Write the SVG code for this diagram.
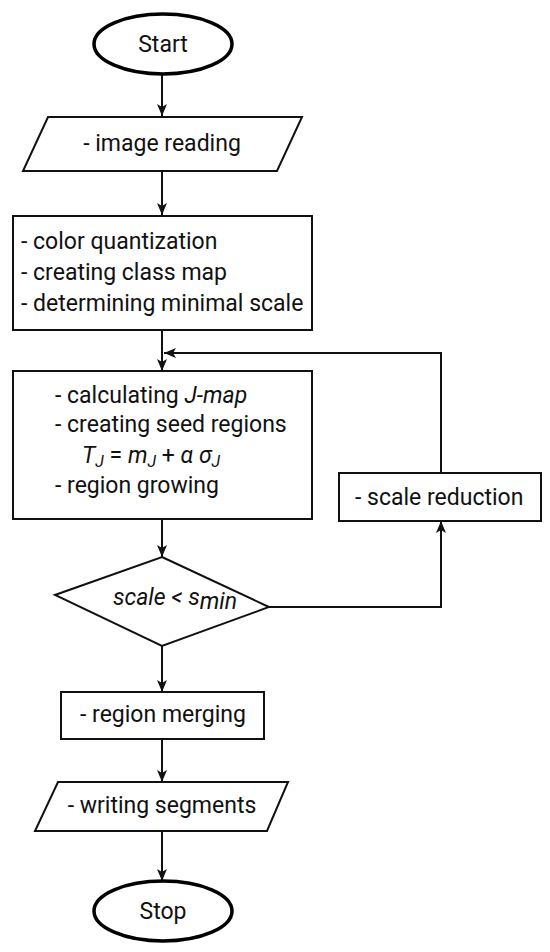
<svg xmlns="http://www.w3.org/2000/svg" width="550" height="952" viewBox="0 0 550 952">
<defs>
<marker id="arr" viewBox="0 0 12 10" refX="12" refY="5" markerWidth="12" markerHeight="10" markerUnits="userSpaceOnUse" orient="auto">
<path d="M0,0 L12,5 L0,10 L3,5 z" fill="#111"/>
</marker>
<style>
.sh{fill:#fff;stroke:#111;stroke-width:2}
.term{fill:#fff;stroke:#000;stroke-width:3.5}
.t{font-family:Roboto,"Liberation Sans",sans-serif;font-size:23px;fill:#111}
.c{text-anchor:middle}
.i{font-style:italic}
.ln{fill:none;stroke:#111;stroke-width:2}
</style>
</defs>
<rect width="550" height="952" fill="#fff"/>
<g id="connectors">
<path class="ln" d="M162,75 V116" marker-end="url(#arr)"/>
<path class="ln" d="M162,171 V215" marker-end="url(#arr)"/>
<path class="ln" d="M162,330 V371" marker-end="url(#arr)"/>
<path class="ln" d="M441,473 V353 H164" marker-end="url(#arr)"/>
<path class="ln" d="M162,519 V557" marker-end="url(#arr)"/>
<path class="ln" d="M269,607 H441 V521" marker-end="url(#arr)"/>
<path class="ln" d="M162,646 V692" marker-end="url(#arr)"/>
<path class="ln" d="M162,739 V782" marker-end="url(#arr)"/>
<path class="ln" d="M162,831 V881" marker-end="url(#arr)"/>
</g>
<g id="start">
<ellipse class="term" cx="163" cy="44" rx="69" ry="30"/>
<text class="t c" x="163" y="52">Start</text>
</g>
<g id="image-reading">
<polygon class="sh" points="48,117 302,117 277,171 23,171"/>
<text class="t c" x="162" y="151">- image reading</text>
</g>
<g id="preprocess">
<rect class="sh" x="13" y="216" width="299" height="114"/>
<text class="t" x="21" y="249">- color quantization</text>
<text class="t" x="21" y="280">- creating class map</text>
<text class="t" x="21" y="311">- determining minimal scale</text>
</g>
<g id="segmentation">
<rect class="sh" x="13" y="371" width="299" height="148"/>
<text class="t" x="55" y="403">- calculating <tspan class="i">J-map</tspan></text>
<text class="t" x="55" y="432">- creating seed regions</text>
<text class="t" x="82" y="463"><tspan class="i">T</tspan><tspan class="i" font-size="16" dy="4">J</tspan><tspan dy="-4"> = </tspan><tspan class="i">m</tspan><tspan class="i" font-size="16" dy="4">J</tspan><tspan dy="-4"> + </tspan><tspan class="i">α</tspan><tspan> </tspan><tspan class="i">σ</tspan><tspan class="i" font-size="16" dy="4">J</tspan></text>
<text class="t" x="55" y="493">- region growing</text>
</g>
<g id="scale-reduction">
<rect class="sh" x="339" y="473" width="202" height="48"/>
<text class="t" x="355" y="505">- scale reduction</text>
</g>
<g id="decision">
<polygon class="sh" points="162,557 269,607 162,646 55,595"/>
<text class="t i" x="113" y="605" font-size="16">scale &lt; s<tspan dy="4">min</tspan></text>
</g>
<g id="region-merging">
<rect class="sh" x="61" y="692" width="203" height="47"/>
<text class="t c" x="163" y="722">- region merging</text>
</g>
<g id="writing-segments">
<polygon class="sh" points="58,782 288,782 267,831 35,831"/>
<text class="t c" x="162" y="813">- writing segments</text>
</g>
<g id="stop">
<ellipse class="term" cx="163" cy="911" rx="69" ry="30"/>
<text class="t c" x="163" y="919">Stop</text>
</g>
</svg>
